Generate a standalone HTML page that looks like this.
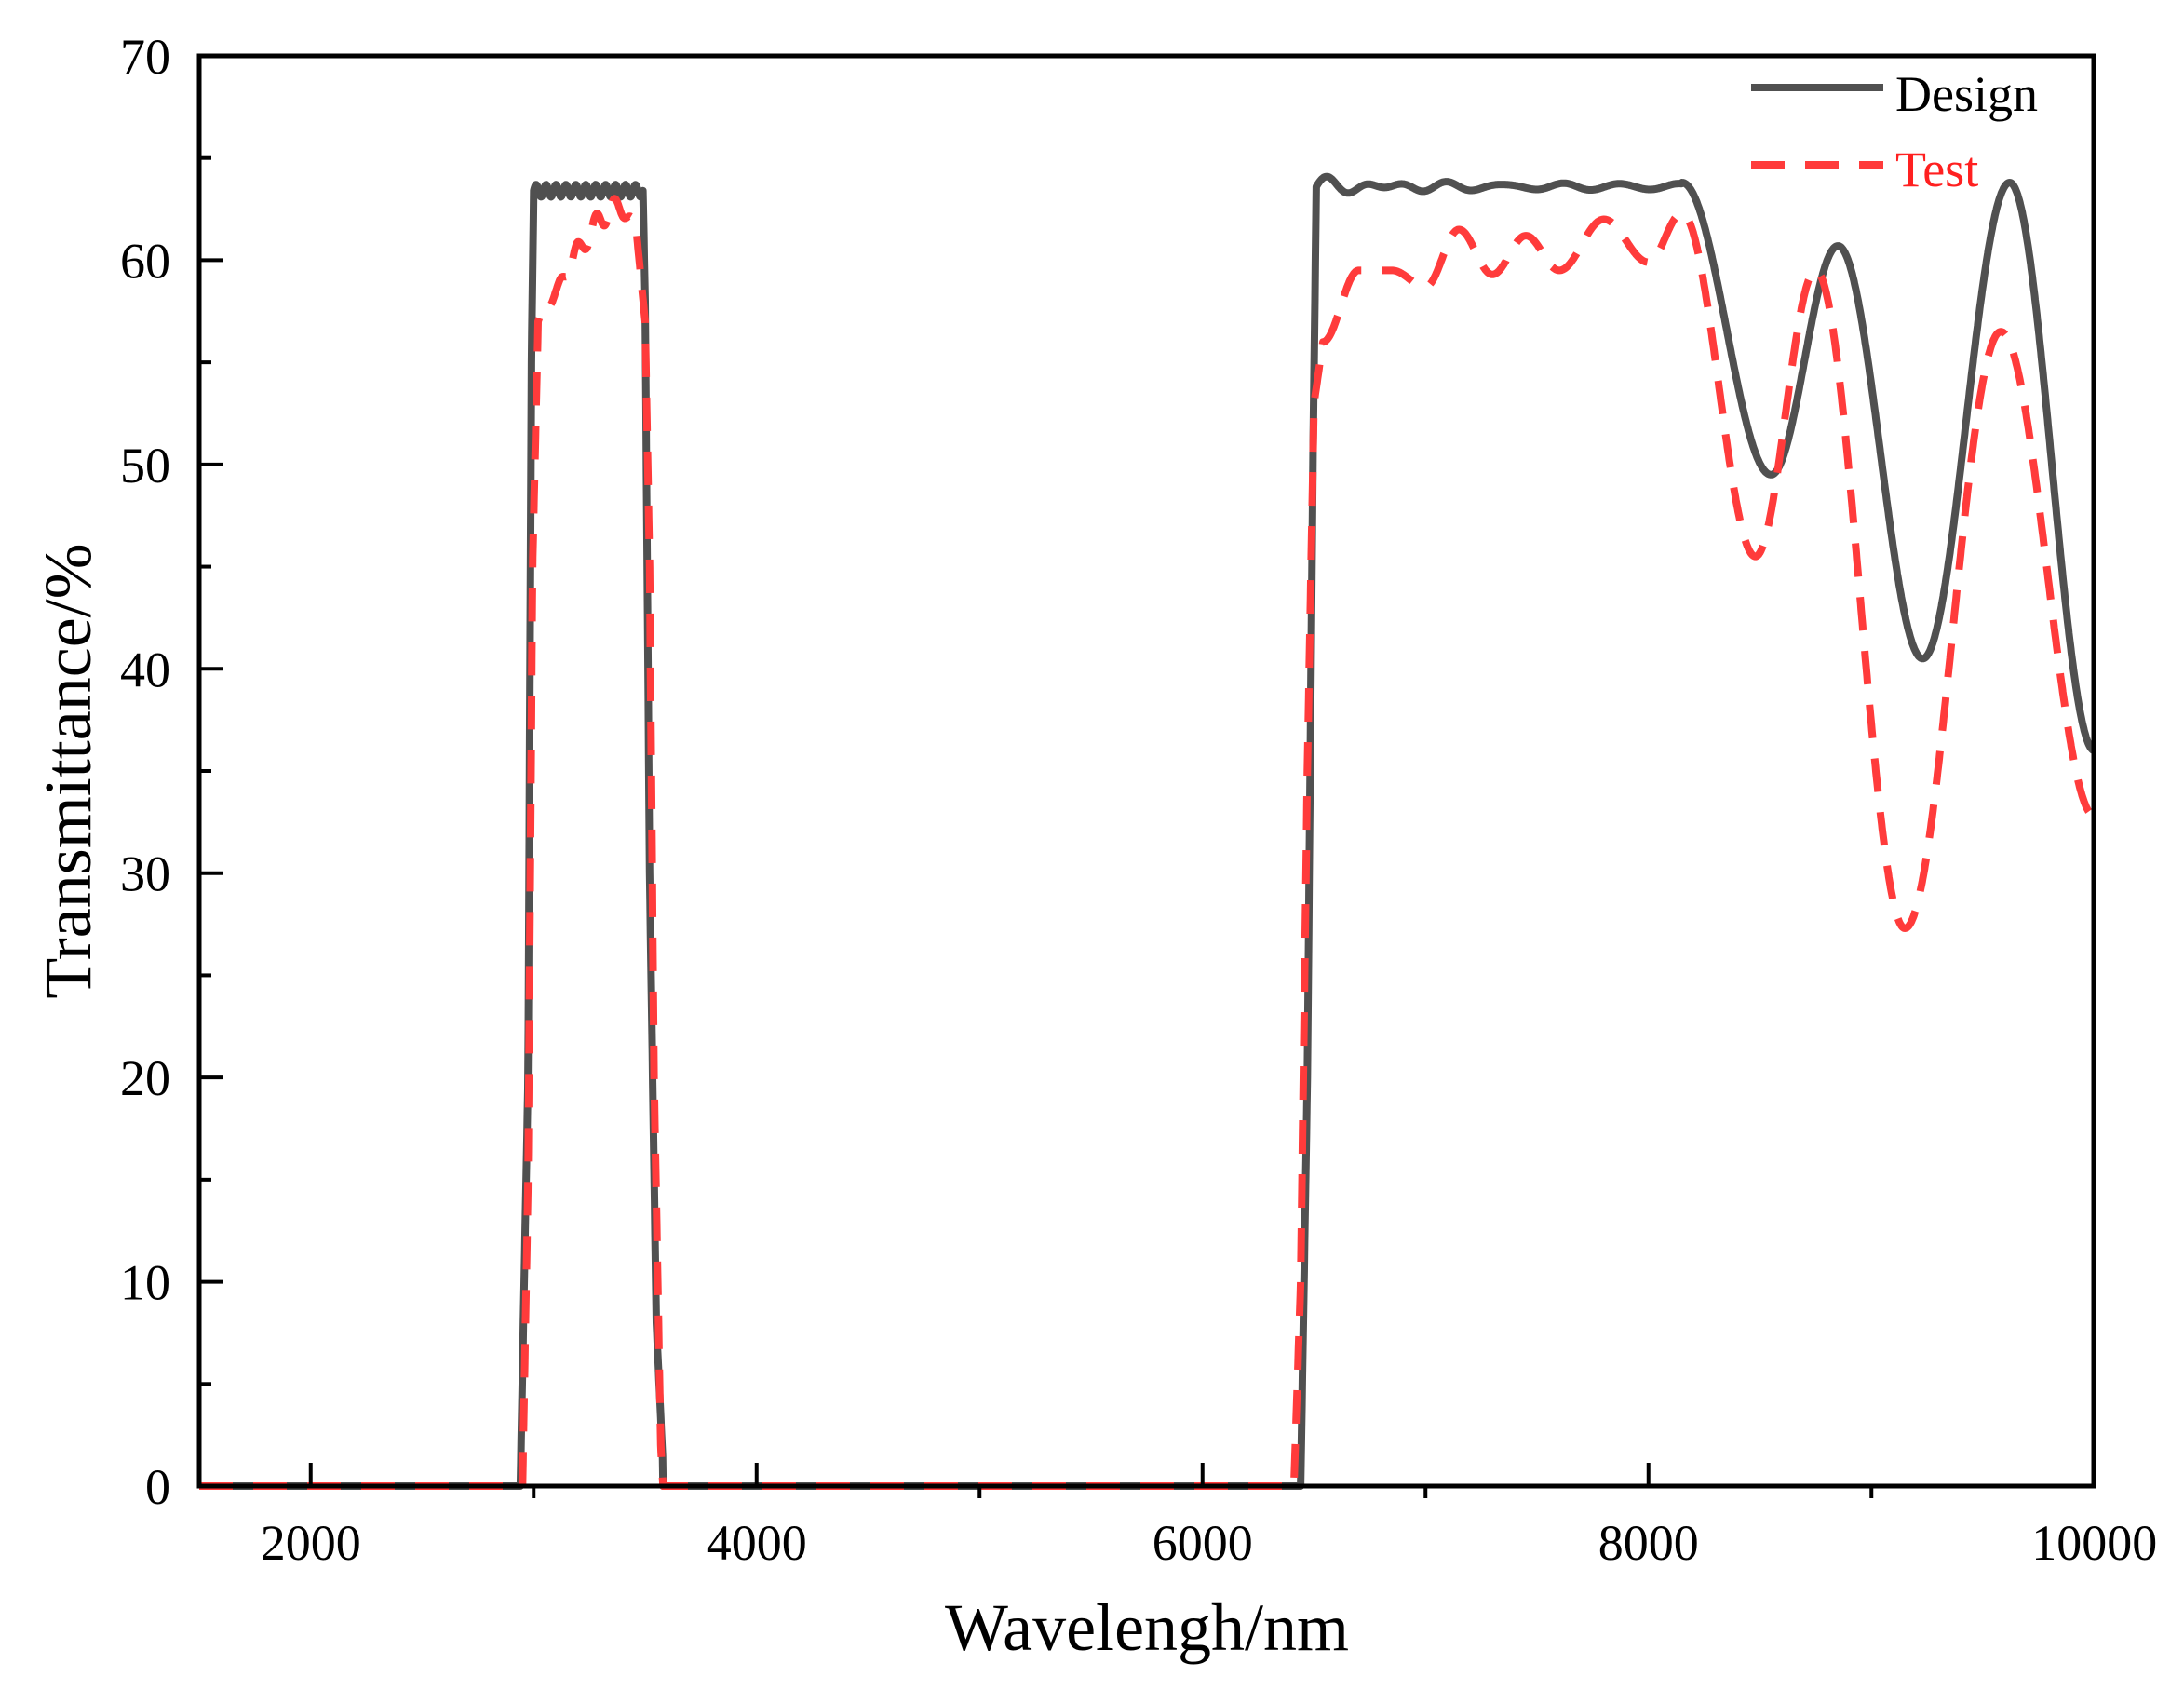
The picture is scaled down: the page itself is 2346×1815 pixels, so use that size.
<!DOCTYPE html>
<html><head><meta charset="utf-8"><style>
html,body{margin:0;padding:0;background:#fff;}
svg{display:block;}
text{font-family:"Liberation Serif",serif;fill:#000;}
</style></head><body>
<svg id="s" width="2346" height="1815" xmlns="http://www.w3.org/2000/svg">
<g id="curves"></g>
<rect x="214" y="60" width="2035" height="1536" fill="none" stroke="#000" stroke-width="5"/>
<g id="ticks" stroke="#000" stroke-width="4"></g>
<g font-size="54" text-anchor="end" id="yl"></g>
<g font-size="54" text-anchor="middle" id="xl"></g>
<text x="1232" y="1772" font-size="72" text-anchor="middle">Wavelengh/nm</text>
<text transform="translate(97,828) rotate(-90)" font-size="72" text-anchor="middle">Transmittance/%</text>
<line x1="1881" y1="94" x2="2023" y2="94" stroke="#505050" stroke-width="8"/>
<text x="2036" y="119" font-size="54">Design</text>
<line x1="1881" y1="177" x2="2023" y2="177" stroke="#ff3b3b" stroke-width="8" stroke-dasharray="36,22"/>
<text x="2036" y="200" font-size="54" style="fill:#ff2020">Test</text>
</svg>
<script>
const X=w=>214+(w-1500)/2000*479, Y=v=>1596-v/10*219.43;
const NS="http://www.w3.org/2000/svg";
function el(p,t,a){const e=document.createElementNS(NS,t);for(const k in a)e.setAttribute(k,a[k]);p.appendChild(e);return e;}
const tk=document.getElementById('ticks'),yl=document.getElementById('yl'),xl=document.getElementById('xl');
for(let v=0;v<=70;v+=5){const y=Y(v);if(v%10==0){el(tk,'line',{x1:214,y1:y,x2:240,y2:y});el(yl,'text',{x:183,y:y+19}).textContent=v;}else el(tk,'line',{x1:214,y1:y,x2:227,y2:y});}
for(let w=2000;w<=10000;w+=1000){const x=X(w);if(w%2000==0){el(tk,'line',{x1:x,y1:1596,x2:x,y2:1571});el(xl,'text',{x:x,y:1675}).textContent=w;}else el(tk,'line',{x1:x,y1:1596,x2:x,y2:1609});}
function cosI(pts,x){for(let i=0;i<pts.length-1;i++){const[a,va]=pts[i],[b,vb]=pts[i+1];if(x>=a&&x<=b){const t=(x-a)/(b-a);const s=(1-Math.cos(Math.PI*t))/2;return va+(vb-va)*s;}}return pts[pts.length-1][1];}
function lin(pts,x){for(let i=0;i<pts.length-1;i++){const[a,va]=pts[i],[b,vb]=pts[i+1];if(x>=a&&x<=b)return va+(vb-va)*(x-a)/(b-a);}return 0;}
function design(w){
 if(w<2940)return 0;
 if(w<3000)return lin([[2940,0],[2975,20],[2990,55],[3000,63.3]],w);
 if(w<3490)return 63.4+0.3*Math.sin((w-3000)/490*2*Math.PI*11);
 if(w<3580)return lin([[3490,63.4],[3500,58],[3520,30],[3550,8],[3580,1]],w);
 if(w<6440)return 0;
 if(w<6510)return lin([[6440,0],[6470,20],[6495,50],[6510,63.5]],w);
 if(w<8150)return 63.6+0.4*Math.exp(-(w-6510)/400)*Math.sin((w-6510)/90*Math.PI)+0.15*Math.sin((w-6510)/130*Math.PI);
 return cosI([[8150,63.8],[8550,49.5],[8850,60.7],[9230,40.5],[9620,63.8],[10000,36],[10001,36]],w);
}
function test(w){
 if(w<2950)return 0;
 if(w<3020)return lin([[2950,0],[2975,15],[2995,45],[3020,57]],w);
 if(w<3460)return cosI([[3020,57],[3100,58.5],[3200,60.5],[3300,62],[3380,62.7],[3460,61.5]],w)+0.4*Math.sin((w-3020)/40*Math.PI);
 if(w<3580)return lin([[3460,61.5],[3500,57],[3520,45],[3540,20],[3570,2],[3580,0]],w);
 if(w<6410)return 0;
 if(w<6540)return lin([[6410,0],[6440,10],[6470,35],[6500,53],[6540,56]],w);
 if(w<8150)return cosI([[6540,56],[6700,59.5],[6850,59.5],[7000,58.7],[7150,61.5],[7300,59.3],[7450,61.2],[7600,59.5],[7800,62],[8000,59.9],[8150,62.3]],w);
 return cosI([[8150,62.3],[8480,45.5],[8750,59.5],[9150,27.3],[9580,56.5],[10000,32.8],[10001,32.8]],w);
}
function path(f){let d='';for(let w=1500;w<=10000;w+=2){d+=(w==1500?'M':'L')+X(w).toFixed(1)+','+Y(f(w)).toFixed(1);}return d;}
const g=document.getElementById('curves');
el(g,'path',{d:path(design),fill:'none',stroke:'#505050','stroke-width':8,'stroke-linejoin':'round'});
el(g,'path',{d:path(test),fill:'none',stroke:'#ff3b3b','stroke-width':8,'stroke-dasharray':'36,22','stroke-linejoin':'round'});
</script>
</body></html>
